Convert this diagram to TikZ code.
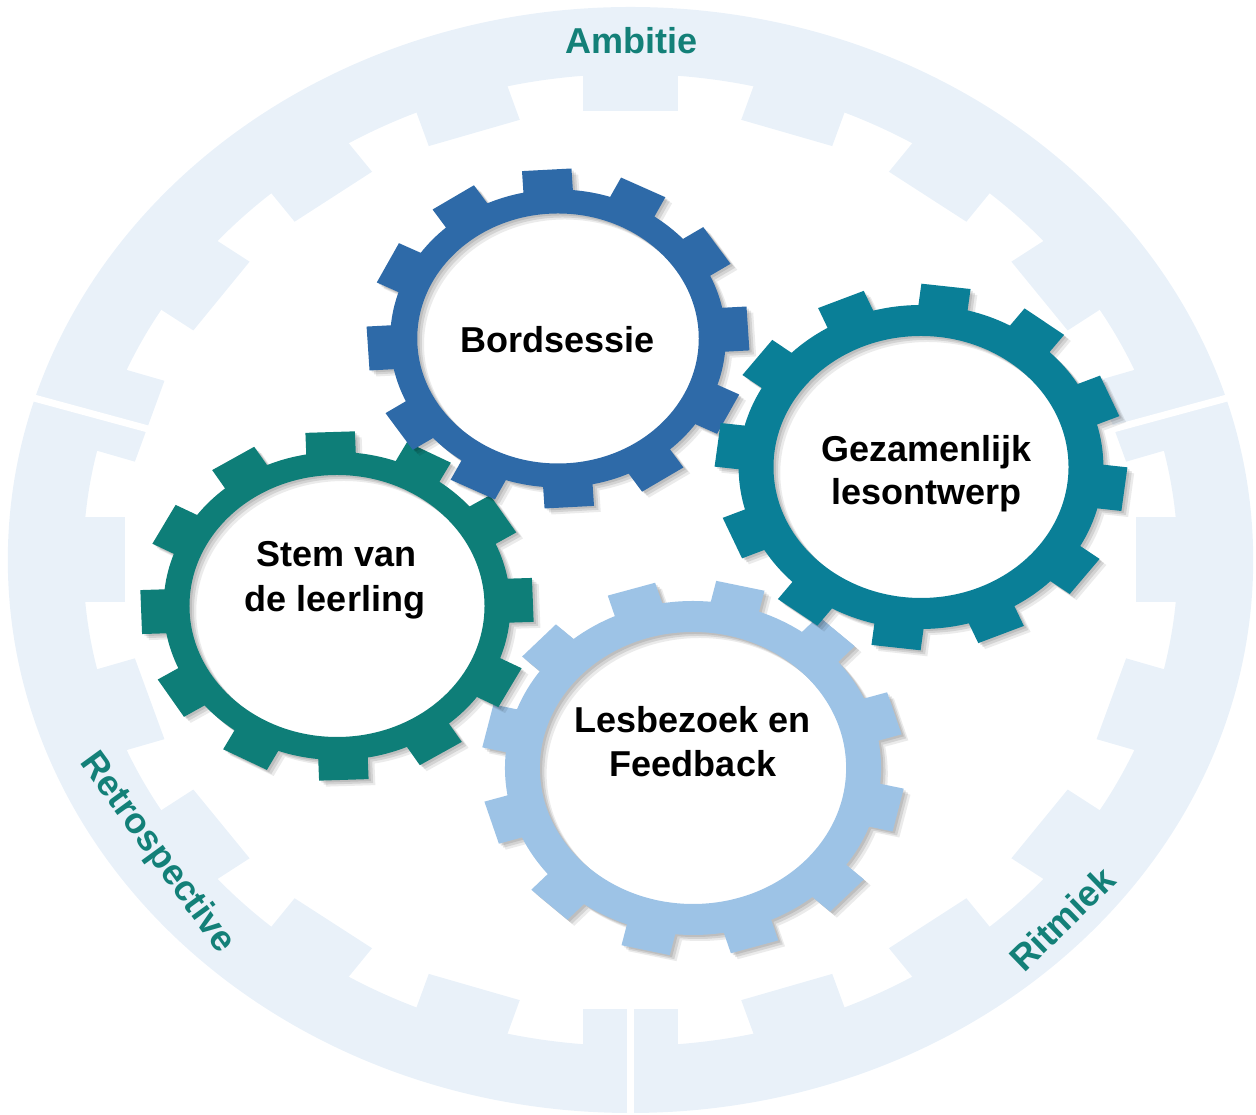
\documentclass[tikz,border=0pt]{standalone}
\usepackage{fontspec}
\setmainfont{Liberation Sans}
\definecolor{ringc}{HTML}{E9F1F9}
\definecolor{labc}{HTML}{138078}
\definecolor{bordc}{HTML}{2E6AA8}
\definecolor{gezc}{HTML}{0A7F97}
\definecolor{stemc}{HTML}{0E7E78}
\definecolor{lesc}{HTML}{9DC3E6}
\newcommand\gearfill[1]{%
  \fill[#1, even odd rule] ({\gRot-15}:\gRb)
    \foreach \k [evaluate=\k as \gA using \gRot+30*\k] in {0,...,11}{
      arc[start angle={\gA-15}, end angle={\gA-\gAl}, radius=\gRb]
      -- ({\gA-\gBe}:\gRtt) -- ({\gA+\gBe}:\gRtt) -- ({\gA+\gAl}:\gRb)
      arc[start angle={\gA+\gAl}, end angle={\gA+15}, radius=\gRb]
    } -- cycle
    (0,0) circle[radius=\gRin];}
\newcommand\drawgear[6]{%
  \begin{scope}[shift={(#1,#2)}, xscale=1.126]
    \pgfmathsetmacro\gRt{#3}
    \pgfmathsetmacro\gRin{#4}
    \pgfmathsetmacro\gRot{#5}
    \pgfmathsetmacro\gRb{\gRt-20}
    \pgfmathsetmacro\gHw{22}
    \pgfmathsetmacro\gAl{asin(\gHw/\gRb)}
    \pgfmathsetmacro\gBe{atan(\gHw/\gRt)}
    \pgfmathsetmacro\gRtt{\gRt*sqrt(1+(\gHw/\gRt)*(\gHw/\gRt))}
    \gearfill{black, opacity=0.10, shift={(2,-2)}}
    \gearfill{black, opacity=0.10, shift={(4,-4)}}
    \gearfill{black, opacity=0.08, shift={(6,-6)}}
    \gearfill{#6}
  \end{scope}}
\tikzset{
  gtext/.style={font=\fontsize{36}{43}\selectfont\bfseries, text=black, inner sep=0pt, anchor=base},
  rlabel/.style={font=\fontsize{36}{43}\selectfont\bfseries, text=labc, inner sep=0pt},
  splitline/.style={draw=white, line width=7pt}
}
\begin{document}
\begin{tikzpicture}[x=1pt, y=1pt]
\useasboundingbox (0,0) rectangle (1256,1115);
% outer internal gear ring
\begin{scope}[shift={(630.5,555)}, xscale=1.126]
  \fill[ringc, even odd rule] (0,0) circle[radius=553] (0,0) circle[radius=486];
  \foreach \a in {0,...,19}{
    \fill[ringc, rotate=90+18*\a] (449,-42.5) rectangle (490,42.5);
  }
  \draw[splitline] (163:440) -- (163:575);
  \draw[splitline] (17:440) -- (17:575);
  \draw[splitline] (270:440) -- (270:575);
\end{scope}
% ring labels
\node[rlabel, anchor=base] (ambitie) at (631.5,1061) {Ambitie};
\node[rlabel, rotate=-54] (retro) at (157,262) {Retrospective};
\node[rlabel, rotate=44] (ritmiek) at (1062,196) {Ritmiek};
% gears (bottom to top)
\drawgear{693}{347}{187}{136}{17}{lesc}
\drawgear{337}{509}{174}{131}{2}{stemc}
\drawgear{558}{776.5}{169}{125}{3.4}{bordc}
\drawgear{921}{648}{182}{131}{-7}{gezc}
% gear texts
\node[gtext] (bord) at (557.5,762) {Bordsessie};
\node[gtext] (gez1) at (926.5,653) {Gezamenlijk};
\node[gtext] (gez2) at (926.5,610) {lesontwerp};
\node[gtext] (stem1) at (336.5,548) {Stem van};
\node[gtext] (stem2) at (335,503) {de leerling};
\node[gtext] (les1) at (692.5,382) {Lesbezoek en};
\node[gtext] (les2) at (693,338) {Feedback};
\end{tikzpicture}
\end{document}
